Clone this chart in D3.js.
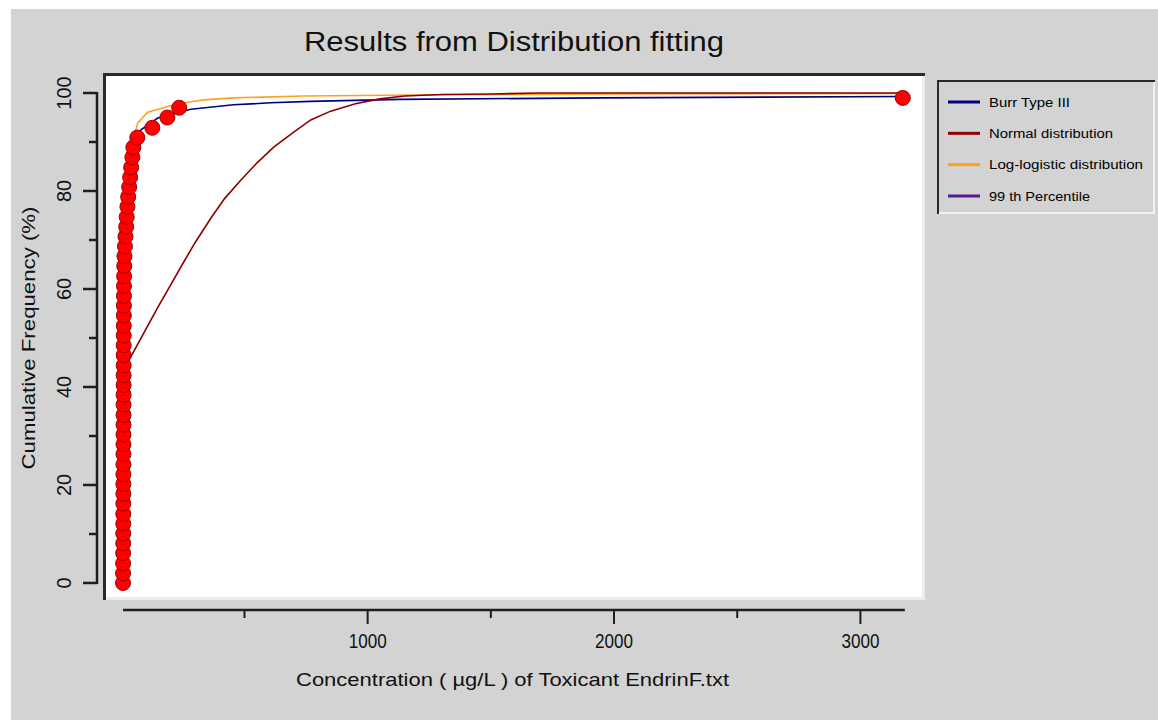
<!DOCTYPE html>
<html>
<head>
<meta charset="utf-8">
<script src="https://cdn.jsdelivr.net/npm/d3@7"></script>
<style>
  html, body { margin: 0; padding: 0; background: #ffffff; }
  svg { display: block; font-family: "Liberation Sans", Arial, sans-serif; }
</style>
</head>
<body>
<svg id="chart" width="1158" height="720"></svg>
<script>
// ---------- data ----------
const concentrations = [7, 7.3, 7.5, 7.7, 7.9, 8, 8.1, 8.2, 8.3, 8.4, 8.5, 8.6, 8.7, 8.8, 8.9, 9, 9.1, 9.2, 9.3, 9.4,
  9.5, 9.6, 9.7, 9.8, 9.9, 10, 10.2, 10.4, 10.6, 10.8, 11, 11.5, 12, 13, 15, 17, 20, 22, 25, 28,
  32, 36, 40, 45, 49, 65, 126, 187, 235, 3172];
const cumFreq = [0, 2.0, 4.0, 6.1, 8.1, 10.1, 12.1, 14.1, 16.2, 18.2, 20.2, 22.2, 24.2, 26.3, 28.3, 30.3, 32.3, 34.3, 36.4, 38.4,
  40.4, 42.4, 44.4, 46.5, 48.5, 50.5, 52.5, 54.6, 56.6, 58.6, 60.6, 62.6, 64.7, 66.7, 68.7, 70.7, 72.7, 74.7, 76.8, 78.8,
  80.8, 82.8, 84.8, 86.9, 88.9, 90.9, 92.9, 95.0, 97.0, 99.0];

// fitted curves: concentration, cumulative %
const burrX = [7, 8, 9, 10, 12, 20, 40, 80, 148, 282, 456, 606, 768, 1132, 1943, 3180];
const burrY = [5, 25, 40, 50, 62, 78, 88, 92.5, 94.9, 96.7, 97.6, 98.0, 98.3, 98.7, 99.0, 99.3];
const normalX = [20, 47, 100, 150, 200, 250, 300, 364, 420, 485, 550, 620, 700, 769, 850, 950, 1050, 1150, 1300, 1500, 1700, 3180];
const normalY = [44.5, 46.9, 51.8, 56.4, 60.8, 65.2, 69.5, 74.5, 78.5, 82.2, 85.7, 89.0, 92.0, 94.5, 96.3, 97.8, 98.8, 99.4, 99.7, 99.8, 100, 100];
const loglogX = [7, 8, 9, 10, 12, 20, 40, 67, 107, 200, 282, 335, 456, 740, 1200, 2000, 3180];
const loglogY = [5, 27, 42, 52, 65, 80, 89, 93.9, 96.1, 97.4, 98.2, 98.6, 99.0, 99.4, 99.6, 99.8, 99.9];

const yTickLabels = [0, 20, 40, 60, 80, 100];
const yMinorTicks = [10, 30, 50, 70, 90];
const xTickLabels = [1000, 2000, 3000];
const xMinorTicks = [500, 1500, 2500];

const legendNames = ["Burr Type III", "Normal distribution", "Log-logistic distribution", "99 th Percentile"];
const legendColors = ["#000080", "#8B0000", "#FFA020", "#551A8B"];
const legendTextWidths = [81, 124, 154, 101];

const titleText = "Results from Distribution fitting";
const xTitle = "Concentration ( \u00B5g/L ) of Toxicant EndrinF.txt";
const yTitle = "Cumulative Frequency (%)";

// ---------- layout ----------
const svg = d3.select("#chart");
const box = {left: 103, top: 73, right: 925, bottom: 600};

const x = d3.scaleLinear().domain([-62, 3250]).range([106, 922]);
const y = d3.scaleLinear().domain([-2.86, 103.47]).range([597, 76]);

// background
svg.append("rect").attr("x", 11).attr("y", 9).attr("width", 1147).attr("height", 711).attr("fill", "#d3d3d3");

// title
svg.append("text").attr("x", 514).attr("y", 51).attr("text-anchor", "middle")
  .attr("font-size", 27).attr("fill", "#111")
  .attr("textLength", 420).attr("lengthAdjust", "spacingAndGlyphs")
  .text(titleText);

// plot box
svg.append("rect").attr("x", box.left).attr("y", box.top)
  .attr("width", box.right - box.left).attr("height", box.bottom - box.top).attr("fill", "#ffffff");
svg.append("path").attr("d", `M${box.right - 1.5},${box.top} V${box.bottom - 1.5} H${box.left}`)
  .attr("fill", "none").attr("stroke", "#ececec").attr("stroke-width", 3);
svg.append("path").attr("d", `M${box.left + 1.5},${box.bottom} V${box.top + 1.5} H${box.right}`)
  .attr("fill", "none").attr("stroke", "#2a2a2a").attr("stroke-width", 3);

svg.append("clipPath").attr("id", "clip").append("rect")
  .attr("x", 106).attr("y", 76).attr("width", 816).attr("height", 521);

const plot = svg.append("g").attr("clip-path", "url(#clip)");
const line = d3.line().x(d => x(d[0])).y(d => y(d[1]));

function drawCurve(xs, ys, color) {
  plot.append("path").datum(xs.map((v, i) => [v, ys[i]]))
    .attr("d", line).attr("fill", "none").attr("stroke", color).attr("stroke-width", 1.6);
}
drawCurve(loglogX, loglogY, legendColors[2]);
drawCurve(burrX, burrY, legendColors[0]);
drawCurve(normalX, normalY, legendColors[1]);

// data points
plot.selectAll("circle.pt").data(concentrations.map((c, i) => [c, cumFreq[i]]))
  .enter().append("circle").attr("class", "pt")
  .attr("cx", d => x(d[0])).attr("cy", d => y(d[1])).attr("r", 7.5)
  .attr("fill", "#ff0000").attr("stroke", "#a00000").attr("stroke-width", 1);

// ---------- y axis ----------
const yAxisX = 97;
svg.append("line").attr("x1", yAxisX).attr("x2", yAxisX)
  .attr("y1", y(0) + 1).attr("y2", y(100) - 1)
  .attr("stroke", "#1e1e1e").attr("stroke-width", 2.5);
svg.selectAll("line.ymaj").data(yTickLabels).enter().append("line")
  .attr("x1", 83).attr("x2", yAxisX).attr("y1", d => y(d)).attr("y2", d => y(d))
  .attr("stroke", "#1e1e1e").attr("stroke-width", 2.5);
svg.selectAll("line.ymin").data(yMinorTicks).enter().append("line")
  .attr("x1", 89).attr("x2", yAxisX).attr("y1", d => y(d)).attr("y2", d => y(d))
  .attr("stroke", "#1e1e1e").attr("stroke-width", 2.5);
svg.selectAll("text.ylab").data(yTickLabels).enter().append("text")
  .attr("transform", d => `translate(71,${y(d)}) rotate(-90)`)
  .attr("text-anchor", "middle").attr("font-size", 20).attr("fill", "#111")
  .text(d => d);
svg.append("text").attr("transform", `translate(35,338) rotate(-90)`)
  .attr("text-anchor", "middle").attr("font-size", 18.5).attr("fill", "#111")
  .attr("textLength", 263).attr("lengthAdjust", "spacingAndGlyphs")
  .text(yTitle);

// ---------- x axis ----------
const xAxisY = 610;
const ext = d3.extent(concentrations);
svg.append("line").attr("x1", x(ext[0])).attr("x2", x(ext[1]) + 2)
  .attr("y1", xAxisY).attr("y2", xAxisY)
  .attr("stroke", "#1e1e1e").attr("stroke-width", 2.5);
svg.selectAll("line.xmaj").data(xTickLabels).enter().append("line")
  .attr("x1", d => x(d)).attr("x2", d => x(d)).attr("y1", xAxisY).attr("y2", xAxisY + 14)
  .attr("stroke", "#1e1e1e").attr("stroke-width", 2);
svg.selectAll("line.xmin").data(xMinorTicks).enter().append("line")
  .attr("x1", d => x(d)).attr("x2", d => x(d)).attr("y1", xAxisY).attr("y2", xAxisY + 8)
  .attr("stroke", "#1e1e1e").attr("stroke-width", 2);
svg.selectAll("text.xlab").data(xTickLabels).enter().append("text")
  .attr("x", d => x(d)).attr("y", 648).attr("text-anchor", "middle")
  .attr("font-size", 20).attr("fill", "#111")
  .attr("textLength", 38).attr("lengthAdjust", "spacingAndGlyphs")
  .text(d => d);
svg.append("text").attr("x", 512.5).attr("y", 686).attr("text-anchor", "middle")
  .attr("font-size", 18.5).attr("fill", "#111")
  .attr("textLength", 433).attr("lengthAdjust", "spacingAndGlyphs")
  .text(xTitle);

// ---------- legend ----------
const lg = {left: 937, top: 80, right: 1155, bottom: 214};
svg.append("path").attr("d", `M${lg.right - 1},${lg.top} V${lg.bottom - 1} H${lg.left}`)
  .attr("fill", "none").attr("stroke", "#f2f2f2").attr("stroke-width", 2);
svg.append("path").attr("d", `M${lg.left + 1},${lg.bottom} V${lg.top + 1} H${lg.right}`)
  .attr("fill", "none").attr("stroke", "#2a2a2a").attr("stroke-width", 2);
const legendYs = d3.scalePoint().domain(legendNames).range([102, 196]);
const items = svg.selectAll("g.leg").data(legendNames).enter().append("g")
  .attr("transform", d => `translate(0,${legendYs(d)})`);
items.append("line").attr("x1", 948).attr("x2", 980).attr("y1", 0).attr("y2", 0)
  .attr("stroke", (d, i) => legendColors[i]).attr("stroke-width", 3);
items.append("text").attr("x", 989).attr("y", 4.5).attr("font-size", 12.5).attr("fill", "#000")
  .attr("textLength", (d, i) => legendTextWidths[i]).attr("lengthAdjust", "spacingAndGlyphs")
  .text(d => d);
</script>
</body>
</html>
